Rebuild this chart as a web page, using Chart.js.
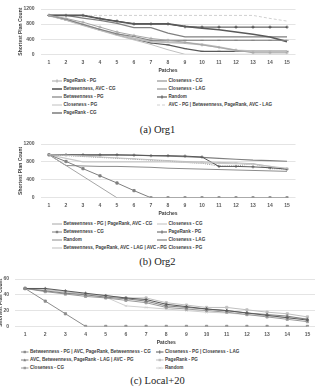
<!DOCTYPE html>
<html>
<head>
<meta charset="utf-8">
<script src="https://cdn.jsdelivr.net/npm/chart.js@4.4.1/dist/chart.umd.min.js"></script>
<style>
  html, body { margin: 0; padding: 0; background: #fff; }
  body { width: 315px; height: 392px; overflow: hidden; position: relative; font-family: "Liberation Sans", Arial, sans-serif; }
  .box { position: absolute; }
  .cap { position: absolute; left: 0; width: 315px; text-align: center; font-family: "Liberation Serif", "Times New Roman", serif; font-size: 10.5px; color: #222; line-height: 1; }
  .leg { position: absolute; display: flex; align-items: center; font-size: 4.6px; font-weight: bold; color: #404040; white-space: nowrap; line-height: 1; }
  .leg svg { margin-right: 1.5px; flex: none; }
</style>
</head>
<body>
<div class="box" style="left:0;top:0;width:315px;height:74px"><canvas id="org1"></canvas></div>
<div class="cap" style="top:125px">(a) Org1</div>
<div class="box" style="left:0;top:135px;width:315px;height:82px"><canvas id="org2"></canvas></div>
<div class="cap" style="top:257px">(b) Org2</div>
<div class="box" style="left:-20px;top:270px;width:345px;height:76px"><canvas id="local"></canvas></div>
<div class="cap" style="top:376px">(c) Local+20</div>
<div id="legends"></div>

<script>
const patches = ['1', '2', '3', '4', '5', '6', '7', '8', '9', '10', '11', '12', '13', '14', '15'];

// Org1
const org1Names = [
  'PageRank - PG', 'Closeness - CG',
  'Betweenness, AVC - CG', 'Closeness - LAG',
  'Betweenness - PG', 'Random',
  'Closeness - PG', 'AVC - PG | Betweenness, PageRank, AVC - LAG',
  'PageRank - CG'
];
const org1PageRankPG = [1030, 950, 850, 720, 590, 500, 420, 370, 320, 250, 180, 110, 40, 40, 40];
const org1ClosenessCG = [1030, 930, 790, 660, 540, 470, 370, 370, 370, 370, 370, 370, 370, 370, 370];
const org1BetweennessAvcCG = [1030, 1030, 1030, 940, 870, 805, 805, 805, 740, 690, 650, 590, 530, 460, 336];
const org1ClosenessLAG = [1030, 920, 790, 650, 540, 420, 340, 320, 300, 260, 190, 100, 80, 80, 80];
const org1BetweennessPG = [1030, 1030, 960, 900, 820, 706, 706, 560, 460, 460, 460, 460, 460, 460, 460];
const org1Random = [1030, 1030, 1030, 950, 880, 805, 805, 805, 730, 720, 720, 720, 720, 720, 720];
const org1ClosenessPG = [1030, 900, 760, 630, 500, 380, 260, 120, 0, 0, 0, 0, 0, 0, 0];
const org1AvcPG = [1030, 1030, 1030, 1030, 1030, 1030, 1030, 1030, 1030, 1030, 1030, 1030, 1030, 950, 880];
const org1PageRankCG = [1030, 910, 790, 650, 520, 410, 300, 250, 150, 80, 80, 80, 80, 80, 80];

// Org2
const org2Names = [
  'Betweenness - PG | PageRank, AVC - CG', 'Closeness - CG',
  'Betweenness - CG', 'PageRank - PG',
  'Random', 'Closeness - LAG',
  'Betweenness, PageRank, AVC - LAG | AVC - PG', 'Closeness - PG'
];
const org2BetweennessPG = [960, 720, 480, 240, 0, 0, 0, 0, 0, 0, 0, 0, 0, 0, 0];
const org2ClosenessCG = [960, 950, 930, 910, 890, 870, 850, 830, 810, 800, 790, 780, 760, 700, 660];
const org2BetweennessCG = [960, 810, 650, 490, 330, 160, 0, 0, 0, 0, 0, 0, 0, 0, 0];
const org2PageRankPG = [960, 960, 960, 960, 960, 950, 940, 940, 930, 910, 700, 700, 690, 670, 640];
const org2Random = [960, 720, 710, 700, 700, 690, 680, 660, 650, 640, 630, 620, 610, 600, 590];
const org2ClosenessLAG = [960, 960, 950, 950, 950, 950, 940, 930, 920, 900, 880, 860, 840, 830, 815];
const org2AvcLAG = [960, 880, 800, 800, 800, 800, 800, 800, 790, 780, 770, 760, 750, 700, 620];
const org2ClosenessPG = [960, 940, 920, 900, 880, 860, 840, 820, 790, 770, 710, 710, 760, 650, 640];

// Local+20
const localNames = [
  'Betweenness - PG | AVC, PageRank, Betweenness - CG', 'Closeness - PG | Closeness - LAG',
  'AVC, Betweenness, PageRank - LAG | AVC - PG', 'PageRank - PG',
  'Closeness - CG', 'Random'
];
const localBetweennessPG = [48, 32, 16, 0, 0, 0, 0, 0, 0, 0, 0, 0, 0, 0, 0];
const localClosenessPG = [48, 48, 45, 42, 39, 36, 34, 28, 25, 22, 20, 17, 14, 11, 8];
const localAvcLAG = [48, 45, 42, 40, 37, 35, 32, 26, 24, 22, 20, 17, 15, 13, 9];
const localPageRankPG = [48, 47, 44, 41, 39, 36, 36, 30, 27, 24, 24, 21, 18, 16, 12];
const localClosenessCG = [48, 44, 41, 38, 36, 33, 30, 24, 22, 20, 18, 15, 12, 9, 6];
const localRandom = [48, 46, 43, 40, 37, 26, 24, 22, 20, 18, 17, 15, 13, 11, 10];

function line(label, data, color, width, point, dash) {
  return {
    label, data,
    borderColor: color,
    backgroundColor: color,
    borderWidth: width,
    borderDash: dash || [],
    pointStyle: point || 'circle',
    pointRadius: point ? 1.6 : 0,
    pointBorderWidth: 0.8,
    pointBorderColor: color,
    pointBackgroundColor: color,
    tension: 0,
  };
}

const org1Sets = [
  line(org1Names[0], org1PageRankPG, '#a6a6a6', 1, 'cross'),
  line(org1Names[1], org1ClosenessCG, '#7f7f7f', 1, 'line'),
  line(org1Names[2], org1BetweennessAvcCG, '#595959', 1.6),
  line(org1Names[3], org1ClosenessLAG, '#bfbfbf', 2),
  line(org1Names[4], org1BetweennessPG, '#808080', 1.2),
  line(org1Names[5], org1Random, '#404040', 1, 'cross'),
  line(org1Names[6], org1ClosenessPG, '#c0c0c0', 1),
  line(org1Names[7], org1AvcPG, '#d0d0d0', 1, null, [3, 2]),
  line(org1Names[8], org1PageRankCG, '#595959', 1.2, 'line'),
];

const org2Sets = [
  line(org2Names[0], org2BetweennessPG, '#a6a6a6', 1),
  line(org2Names[1], org2ClosenessCG, '#bfbfbf', 1, 'line'),
  line(org2Names[2], org2BetweennessCG, '#7f7f7f', 1, 'rect'),
  line(org2Names[3], org2PageRankPG, '#595959', 1, 'cross'),
  line(org2Names[4], org2Random, '#8c8c8c', 1),
  line(org2Names[5], org2ClosenessLAG, '#808080', 1.2),
  line(org2Names[6], org2AvcLAG, '#c8c8c8', 1.2),
  line(org2Names[7], org2ClosenessPG, '#8c8c8c', 1, null, [1, 1.2]),
];

const localSets = [
  line(localNames[0], localBetweennessPG, '#8c8c8c', 1, 'rect'),
  line(localNames[1], localClosenessPG, '#595959', 1, 'cross'),
  line(localNames[2], localAvcLAG, '#808080', 1, 'triangle'),
  line(localNames[3], localPageRankPG, '#bfbfbf', 1, 'rect'),
  line(localNames[4], localClosenessCG, '#9a9a9a', 1, 'rect'),
  line(localNames[5], localRandom, '#d0d0d0', 1, 'crossRot'),
];

const tickFont = { family: '"Liberation Sans", Arial, sans-serif', size: 5, weight: 'bold' };

function drawChart(id, datasets, yMax, yStep, area) {
  return new Chart(document.getElementById(id), {
    type: 'line',
    data: { labels: patches, datasets },
    options: {
      responsive: true,
      maintainAspectRatio: false,
      animation: false,
      layout: { padding: { left: area.padLeft, right: area.padRight, top: area.padTop, bottom: 0 } },
      plugins: { legend: { display: false }, tooltip: { enabled: false } },
      scales: {
        x: {
          offset: true,
          grid: { display: false, drawTicks: false },
          border: { display: false },
          ticks: { color: '#595959', font: tickFont, padding: 5, maxRotation: 0, autoSkip: false },
          title: { display: true, text: 'Patches', color: '#404040', font: tickFont, padding: 0 },
          afterFit: (s) => { s.height = area.xHeight; },
        },
        y: {
          min: 0,
          max: yMax,
          grid: { color: '#d9d9d9', lineWidth: 0.7, drawTicks: false },
          border: { display: false },
          ticks: { stepSize: yStep, color: '#595959', font: tickFont, padding: 6, callback: (v) => String(v) },
          title: { display: true, text: 'Shortest Plan Count', color: '#404040', font: tickFont, padding: 0 },
          afterFit: (s) => { s.width = area.yWidth; },
        },
      },
    },
  });
}

drawChart('org1', org1Sets, 1200, 200, { padLeft: 17.5, yWidth: 23, padRight: 19.5, padTop: 6, xHeight: 19.7 });
drawChart('org2', org2Sets, 1200, 200, { padLeft: 17.5, yWidth: 23, padRight: 19.5, padTop: 6, xHeight: 19.2 });
drawChart('local', localSets, 60, 10, { padLeft: 18, yWidth: 17, padRight: 7.5, padTop: 6.7, xHeight: 19.6 });

function sampleSvg(ds, w) {
  const h = 6;
  const c = ds.borderColor;
  let s = `<svg width="${w}" height="${h}" viewBox="0 0 ${w} ${h}">`;
  const dash = ds.borderDash.length ? ` stroke-dasharray="${ds.borderDash.join(' ')}"` : '';
  s += `<line x1="0" y1="3" x2="${w}" y2="3" stroke="${c}" stroke-width="${ds.borderWidth}"${dash}/>`;
  const m = w / 2;
  if (ds.pointRadius) {
    const st = ds.pointStyle;
    if (st === 'cross') s += `<line x1="${m}" y1="1.3" x2="${m}" y2="4.7" stroke="${c}" stroke-width="0.8"/>`;
    else if (st === 'rect') s += `<rect x="${m - 1.2}" y="1.8" width="2.4" height="2.4" fill="${c}"/>`;
    else if (st === 'triangle') s += `<path d="M${m} 1.6 L${m + 1.4} 4.2 L${m - 1.4} 4.2 Z" fill="${c}"/>`;
    else if (st === 'crossRot') s += `<path d="M${m - 1.2} 1.8 L${m + 1.2} 4.2 M${m + 1.2} 1.8 L${m - 1.2} 4.2" stroke="${c}" stroke-width="0.8"/>`;
  }
  return s + '</svg>';
}

function buildLegend(datasets, rows, cols, sampleW) {
  const wrap = document.getElementById('legends');
  datasets.forEach((ds, i) => {
    const el = document.createElement('div');
    el.className = 'leg';
    el.style.left = cols[i % 2] + 'px';
    el.style.top = (rows[Math.floor(i / 2)] - 3) + 'px';
    el.innerHTML = sampleSvg(ds, sampleW) + `<span>${ds.label}</span>`;
    wrap.appendChild(el);
  });
}

buildLegend(org1Sets, [81, 89, 97, 105, 113], [52, 157], 10);
buildLegend(org2Sets, [224, 232, 240, 248], [52, 157], 10);
buildLegend(localSets, [352, 360, 368], [21, 156], 7.5);
</script>
</body>
</html>
